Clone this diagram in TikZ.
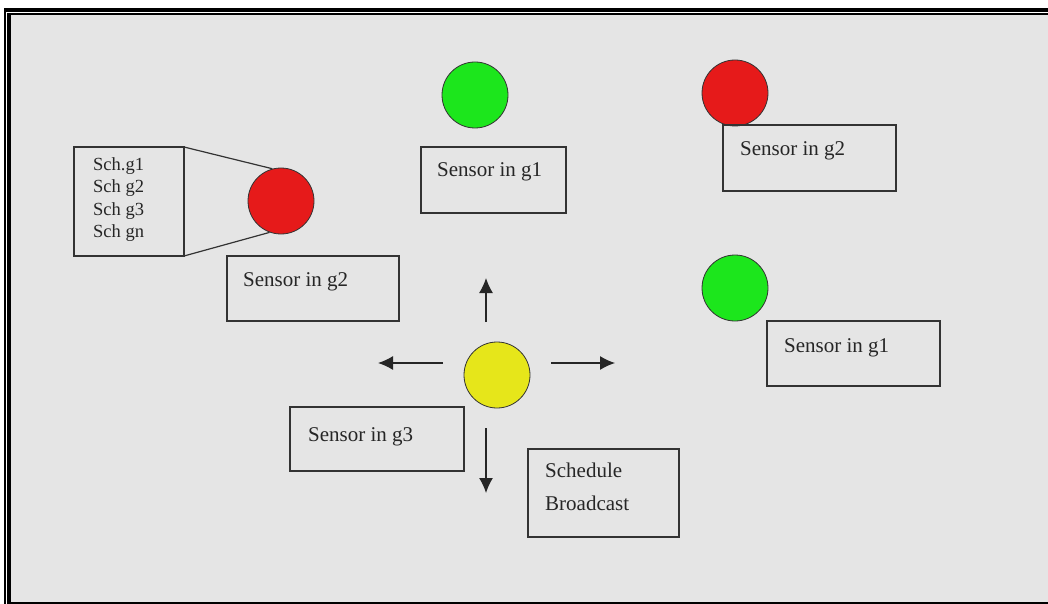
\documentclass[tikz,border=0pt]{standalone}
\usepackage{fontspec}
\setmainfont{Liberation Serif}
\usetikzlibrary{arrows.meta}
\definecolor{bg}{HTML}{E5E5E5}
\definecolor{sgreen}{HTML}{1CE61C}
\definecolor{sred}{HTML}{E61A1A}
\definecolor{syellow}{HTML}{E6E61A}
\definecolor{ink}{HTML}{333333}
\begin{document}
\begin{tikzpicture}[x=1pt,y=-1pt,
  sensor/.style={circle,draw=ink,line width=0.8pt,minimum size=66pt,inner sep=0pt},
  tbox/.style={draw=ink,line width=1.2pt},
  lbl/.style={anchor=west,inner sep=0pt,font=\fontsize{21}{24}\selectfont,text=black!85},
  arr/.style={-{Latex[length=15pt,width=14pt]},line width=1.3pt,draw=black!85}]
\useasboundingbox (0,0) rectangle (1048,604);
\fill[white] (0,0) rectangle (1048,604);
\fill[black] (4,8) rectangle (1048,604);
\fill[white] (6,12) rectangle (1048,604);
\fill[black] (7,13) rectangle (1048,604);
\fill[bg] (11,15) rectangle (1048,602);

% circles
\node[sensor,fill=sgreen] (c1) at (475,95) {};
\node[sensor,fill=sred] (c2) at (735,93) {};
\node[sensor,fill=sred] (c3) at (281,201) {};
\node[sensor,fill=sgreen] (c4) at (735,288) {};
\node[sensor,fill=syellow] (c5) at (497,375) {};

% boxes
\draw[tbox] (421,147) rectangle (566,213);
\node[lbl] (t1) at (437,172) {Sensor in g1};
\draw[tbox] (723,125) rectangle (896,191);
\node[lbl] (t2) at (740,151) {Sensor in g2};
\draw[tbox] (767,321) rectangle (940,386);
\node[lbl] (t4) at (784,348) {Sensor in g1};
\draw[tbox] (227,256) rectangle (399,321);
\node[lbl] (t3) at (243,282) {Sensor in g2};
\draw[tbox] (290,407) rectangle (464,471);
\node[lbl] (t5) at (308,437) {Sensor in g3};
\draw[tbox] (528,449) rectangle (679,537);
\node[lbl,align=left,anchor=north west,font=\fontsize{21}{33}\selectfont] (t6) at (545,463) {Schedule\\Broadcast};

% schedule list box
\draw[tbox] (74,147) rectangle (184,256);
\coordinate (bt) at (184,147);
\coordinate (bb) at (184,256);
\node[anchor=north west,inner sep=0pt,align=left,font=\fontsize{18.5}{22.5}\selectfont,text=black!85] (list) at (93,157) {Sch.g1\\Sch g2\\Sch g3\\Sch gn};
\draw[ink,line width=1.2pt] (bt) -- (c3.105);
\draw[ink,line width=1.2pt] (bb) -- (c3.250);

% arrows
\coordinate (au0) at (486,322); \coordinate (au1) at (486,278);
\coordinate (al0) at (443,363); \coordinate (al1) at (378,363);
\coordinate (ar0) at (551,363); \coordinate (ar1) at (615,363);
\coordinate (ad0) at (486,428); \coordinate (ad1) at (486,493);
\draw[arr] (au0) -- (au1);
\draw[arr] (al0) -- (al1);
\draw[arr] (ar0) -- (ar1);
\draw[arr] (ad0) -- (ad1);
\end{tikzpicture}
\end{document}
